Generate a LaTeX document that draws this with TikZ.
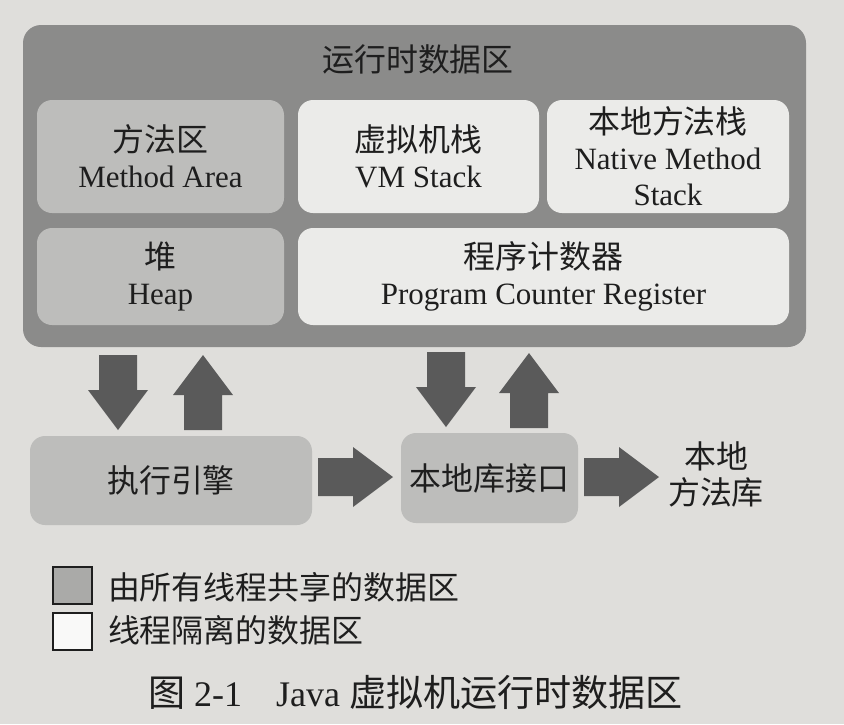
\documentclass[tikz,border=0pt]{standalone}
\usepackage{fontspec}
\setmainfont{Liberation Serif}
\newfontfamily\cjk[Scale=1.03]{Noto Sans CJK SC}
\definecolor{paper}{HTML}{DFDEDB}
\definecolor{outerc}{HTML}{8B8B8A}
\definecolor{sharedc}{HTML}{BDBDBB}
\definecolor{privc}{HTML}{EBEBE9}
\definecolor{arrowc}{HTML}{5A5A5A}
\definecolor{ink}{HTML}{1E1E1E}
\begin{document}
\begin{tikzpicture}[x=1pt,y=-1pt,
  every node/.style={inner sep=0pt, outer sep=0pt, text=ink},
  region/.style={rectangle, rounded corners=15pt, draw=none, align=center,
    font=\fontsize{31}{36}\selectfont},
  shared/.style={region, fill=sharedc},
  private/.style={region, fill=privc},
  txt/.style={font=\fontsize{31}{36}\selectfont, align=center},
  legendbox/.style={rectangle, draw=ink, line width=2pt, minimum width=39pt, minimum height=37pt},
  blockarrow/.pic={\fill[arrowc] (0,-19) -- (35,-19) -- (35,-30) -- (75,0) -- (35,30) -- (35,19) -- (0,19) -- cycle;}
]
\fill[paper] (0,0) rectangle (844,724);
\useasboundingbox (0,0) rectangle (844,724);

% runtime data area
\node[region, fill=outerc, rounded corners=18pt, minimum width=783pt, minimum height=322pt] (outer) at (414.5,186) {};
\node[txt] (title) at (418,59) {\cjk 运行时数据区};

\node[shared, minimum width=247pt, minimum height=113pt] (method) at (160.5,156.5) {{\cjk 方法区}\\{Method Area}};
\node[private, minimum width=241pt, minimum height=113pt] (vm) at (418.5,156.5) {{\cjk 虚拟机栈}\\{VM Stack}};
\node[private, minimum width=242pt, minimum height=113pt] (nstack) at (668,156.5) {{\cjk 本地方法栈}\\{Native Method}\\{Stack}};
\node[shared, minimum width=247pt, minimum height=97pt] (heap) at (160.5,276.5) {{\cjk 堆}\\{Heap}};
\node[private, minimum width=491pt, minimum height=97pt] (pc) at (543.5,276.5) {{\cjk 程序计数器}\\{Program Counter Register}};

% lower row
\node[shared, minimum width=282pt, minimum height=89pt] (exec) at (171,480.5) {\cjk 执行引擎};
\node[shared, minimum width=177pt, minimum height=90pt] (nli) at (489.5,478) {\cjk 本地库接口};
\node[txt] (nlib) at (716,474) {\cjk 本地\\\cjk 方法库};

% block arrows
\pic[rotate=-90] at (118,355) {blockarrow};
\pic[rotate=90] at (203,430) {blockarrow};
\pic[rotate=-90] at (446,352) {blockarrow};
\pic[rotate=90] at (529,428) {blockarrow};
\pic at (318,477) {blockarrow};
\pic at (584,477) {blockarrow};

% legend
\node[legendbox, fill=sharedc!90!black] (lg1) at (72,585) {};
\node[legendbox, fill=white!70!privc] (lg2) at (72,631.5) {};
\node[txt, anchor=west] (lt1) at (108,587) {\cjk 由所有线程共享的数据区};
\node[txt, anchor=west] (lt2) at (108,630) {\cjk 线程隔离的数据区};

% caption
\node[font=\fontsize{36}{40}\selectfont] (cap) at (415.5,692) {{\cjk 图}~2-1\hspace{34pt}Java {\cjk 虚拟机运行时数据区}};
\end{tikzpicture}
\end{document}
